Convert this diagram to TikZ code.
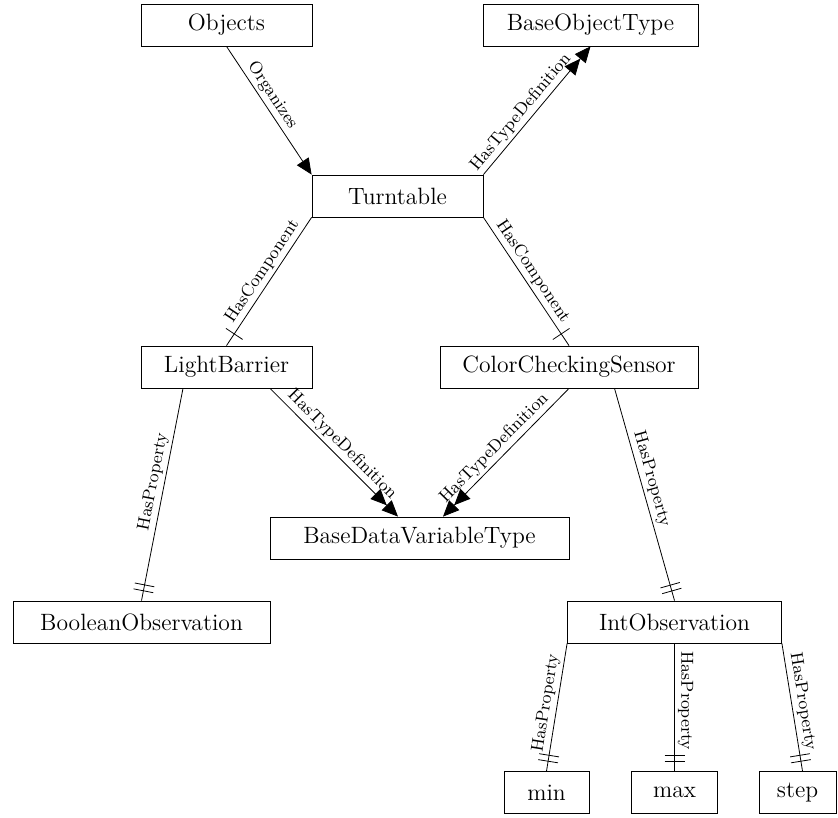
\documentclass[tikz,border=0pt]{standalone}
\usepackage{tikz}
\usetikzlibrary{arrows.meta,decorations.markings}
\tikzset{
  objnode/.style   = {shape=rectangle, draw, align=center,
          minimum height=21pt, inner xsep=8pt,
          font=\fontsize{11.8}{14}\selectfont},
  reflabel/.style  = {font=\fontsize{8.7}{10}\selectfont,
          sloped, above, inner sep=1.5pt},
  organizes/.style = {-{Triangle[length=8pt,width=7pt]}},
  typedef/.style   = {-{Triangle[length=8pt,width=7pt]Triangle[length=8pt,width=7pt]}},
  hascomp/.style   = {postaction={decorate, decoration={markings,
          mark=at position -7pt with {\draw (0,-5pt) -- (0,5pt);}}}},
  hasprop/.style   = {postaction={decorate, decoration={markings,
          mark=at position -8pt with {\draw (0,-5pt) -- (0,5pt);},
          mark=at position -5pt with {\draw (0,-5pt) -- (0,5pt);}}}}
}

\begin{document}
\begin{tikzpicture}
  [
    x = 0.5pt,
    y = -0.5pt
  ]
  \useasboundingbox (0,0) rectangle (838,817);

  \node [objnode, minimum width=85.5pt]  (objects)      at (226.5,25)  {Objects};
  \node [objnode, minimum width=107.5pt] (baseobjtype)  at (590.5,25)  {BaseObjectType};
  \node [objnode, minimum width=85.5pt]  (turntable)    at (397.5,196) {Turntable};
  \node [objnode, minimum width=85.5pt]  (lightbarrier) at (226.5,367) {LightBarrier};
  \node [objnode, minimum width=129pt]   (colorsensor)  at (569,367)   {ColorCheckingSensor};
  \node [objnode, minimum width=149.5pt] (basedatatype) at (419.5,538) {BaseDataVariableType};
  \node [objnode, minimum width=128.5pt] (boolobs)      at (141.5,622) {BooleanObservation};
  \node [objnode, minimum width=107pt]   (intobs)       at (674.5,622) {IntObservation};
  \node [objnode, minimum width=42.5pt]  (minprop)      at (546.5,792.5) {min};
  \node [objnode, minimum width=43pt]    (maxprop)      at (674.5,792.5) {max};
  \node [objnode, minimum width=38.5pt]  (stepprop)     at (797.5,792.5) {step};

  \draw [organizes] (objects.south) -- (turntable.north west)
    node [reflabel, pos=0.43] {Organizes};
  \draw [typedef] (turntable.north east) -- (baseobjtype.south)
    node [reflabel, pos=0.43] {HasTypeDefinition};
  \draw [hascomp] (turntable.south west) -- (lightbarrier.north)
    node [reflabel, pos=0.47] {HasComponent};
  \draw [hascomp] (turntable.south east) -- (colorsensor.north)
    node [reflabel, pos=0.47] {HasComponent};
  \draw [typedef] ([xshift=21.75pt]lightbarrier.south) -- ([xshift=-10.75pt]basedatatype.north)
    node [reflabel, pos=0.5] {HasTypeDefinition};
  \draw [typedef] (colorsensor.south) -- ([xshift=11.75pt]basedatatype.north)
    node [reflabel, pos=0.53] {HasTypeDefinition};
  \draw [hasprop] ([xshift=-21.75pt]lightbarrier.south) -- (boolobs.north)
    node [reflabel, pos=0.45] {HasProperty};
  \draw [hasprop] ([xshift=22.75pt]colorsensor.south) -- (intobs.north)
    node [reflabel, pos=0.44] {HasProperty};
  \draw [hasprop] (intobs.south west) -- (minprop.north)
    node [reflabel, pos=0.48] {HasProperty};
  \draw [hasprop] (intobs.south) -- (maxprop.north)
    node [reflabel, pos=0.45] {HasProperty};
  \draw [hasprop] (intobs.south east) -- ([xshift=2.5pt]stepprop.north)
    node [reflabel, pos=0.47] {HasProperty};
\end{tikzpicture}
\end{document}
